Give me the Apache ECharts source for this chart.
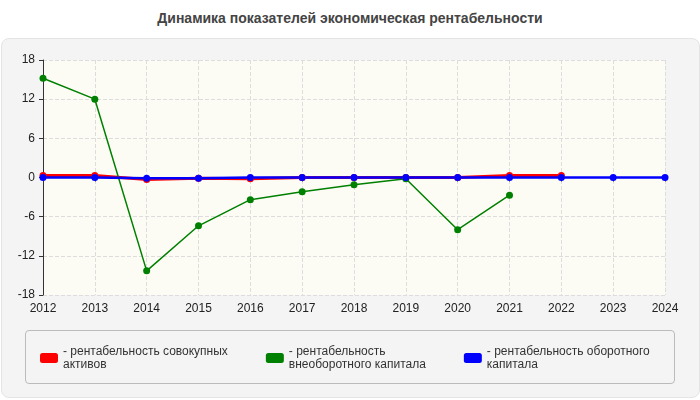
<!DOCTYPE html>
<html><head><meta charset="utf-8">
<script src="https://cdn.jsdelivr.net/npm/echarts@6/dist/echarts.min.js"></script>
<style>body{margin:0;background:#fff}#t{position:absolute;left:0;top:10px;width:700px;text-align:center;font:bold 14px Arial,"Liberation Sans";color:#444}
#bg{position:absolute;left:1px;top:38px;width:697px;height:358px;background:#f4f4f4;border:1px solid #e4e4e4;border-radius:8px}
#lg{position:absolute;left:25px;top:330px;width:648px;height:52px;border:1px solid #bbb;border-radius:4px;background:#f4f4f4}
#c{position:absolute;left:0;top:0;width:700px;height:400px}</style></head>
<body><div id="t">Динамика показателей экономическая рентабельности</div><div id="bg"></div><div id="lg"></div><div id="c"></div>
<script>
const years=['2012','2013','2014','2015','2016','2017','2018','2019','2020','2021','2022','2023','2024'];
const red=[0.3,0.3,-0.3,-0.1,-0.2,0,0,0,0,0.3,0.3,null,null];
const green=[15.2,12.0,-14.3,-7.4,-3.4,-2.2,-1.1,-0.2,-8.0,-2.7,null,null,null];
const blue=[0,0,-0.1,-0.1,0,0,0,0,0,0,0,0,0];
const names=['- рентабельность совокупных\nактивов','- рентабельность\nвнеоборотного капитала','- рентабельность оборотного\nкапитала'];
const ch=echarts.init(document.getElementById('c'));
const mk=(n,d,c,w)=>({name:n,type:'line',data:d,color:c,symbol:'circle',symbolSize:7,lineStyle:{width:w,color:c},itemStyle:{color:c}});
ch.setOption({animation:false,
grid:{left:43,right:35,top:60,bottom:105,show:true,backgroundColor:'#fcfcf5',borderWidth:0},
legend:{left:35,top:340,itemWidth:18,itemHeight:10,itemGap:38,icon:'roundRect',textStyle:{fontSize:12,color:'#333',fontFamily:'Arial',lineHeight:13},data:names},
xAxis:{type:'category',data:years,boundaryGap:false,axisLine:{lineStyle:{color:'#333'}},axisTick:{length:4,lineStyle:{color:'#333'}},axisLabel:{color:'#222',fontSize:12,fontFamily:'Arial'},splitLine:{show:true,lineStyle:{type:'dashed',color:'#ddd'}}},
yAxis:{type:'value',min:-18,max:18,interval:6,axisLine:{show:true,lineStyle:{color:'#333'}},axisTick:{show:true,length:4},axisLabel:{color:'#222',fontSize:12,fontFamily:'Arial'},splitLine:{lineStyle:{type:'dashed',color:'#ddd'}}},
series:[mk(names[0],red,'#ff0000',3),mk(names[1],green,'#008000',1.5),mk(names[2],blue,'#0000ff',2.5)]});
</script></body></html>
